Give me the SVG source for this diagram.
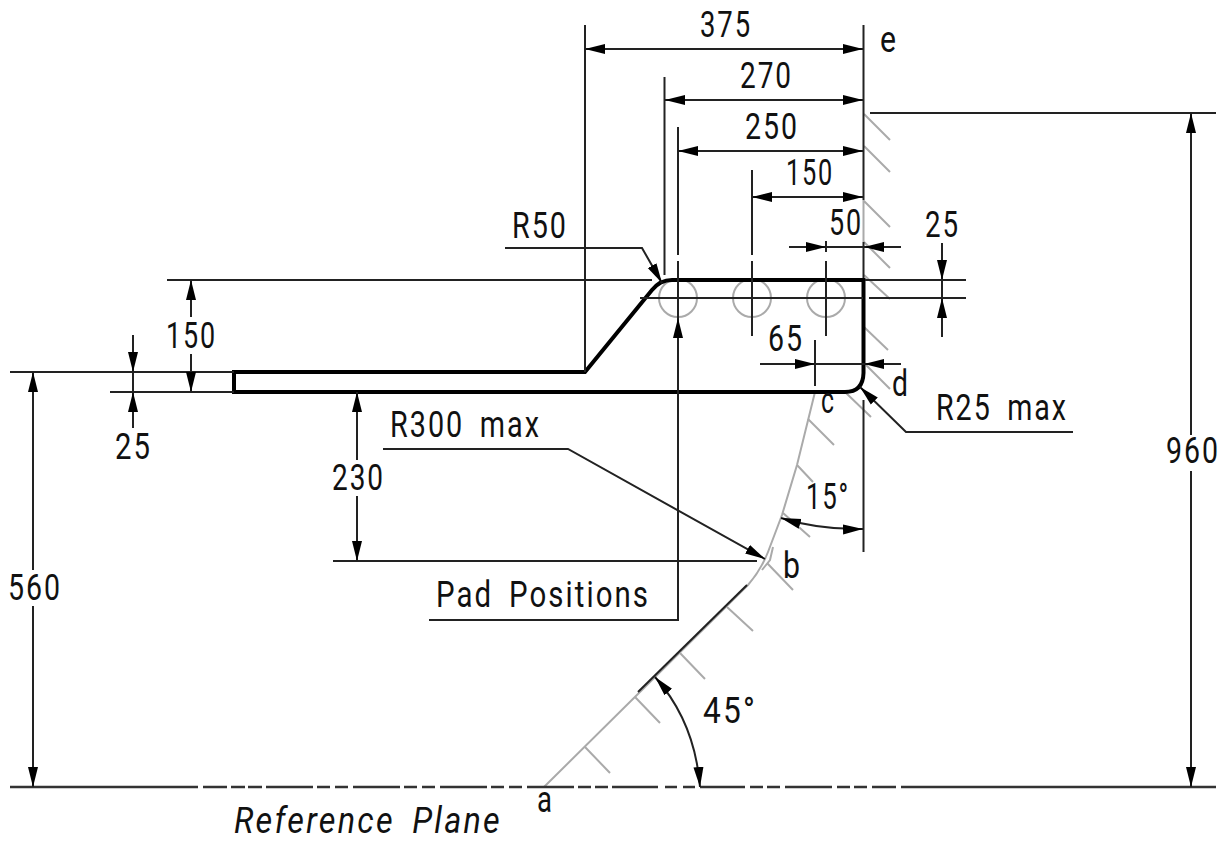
<svg xmlns="http://www.w3.org/2000/svg" width="1228" height="841" viewBox="0 0 1228 841">
<style>
.d{fill:none;stroke:#222;stroke-width:2}
.g{fill:none;stroke:#aaa;stroke-width:2}
.t{fill:none;stroke:#000;stroke-width:4}
.l{fill:none;stroke:#333;stroke-width:2.6}
text{font-family:Roboto,"Liberation Sans",sans-serif;font-weight:400;font-size:36px;fill:#111;letter-spacing:2.5px;word-spacing:8px}
.i{font-style:italic}
.n{letter-spacing:0}
</style>
<defs>
<marker id="a" markerUnits="userSpaceOnUse" markerWidth="22" markerHeight="14" refX="20" refY="7" orient="auto-start-reverse"><path d="M0,2L20,7L0,12Z" fill="#000"/></marker>
</defs>
<rect width="1228" height="841" fill="#fff"/>
<g id="surface">
<path class="g" d="M544,787L748,585Q761,570 768,552L782,515L797,465L815,392"/>
<path class="d" d="M638,692L747,585"/>
<path class="g" d="M863.500,200V242M585,747L610,773M635,697L660,723M680,653L705,679M727,607L753,631M767,563L793,590M783,513L810,537M797,465L813,482M808,419L834,445M845,392L871,417M864,114L890,140M864,146L890,172M864,201L890,227M864,242L890,268M864,275L890,299M864,327L888,350M866,365L890,389M773,547L770,560L762,570"/>
</g>
<g id="pads">
<circle class="g" cx="678" cy="298" r="19"/>
<circle class="g" cx="752" cy="298" r="19"/>
<circle class="g" cx="826" cy="298" r="19"/>
</g>
<g id="part">
<path class="t" d="M234,372H585L652,290Q660,280 672,280H863.500V373Q863,392 845,392H234Z"/>
</g>
<g id="connectors">
<path class="d" d="M585,25V372M664.500,77V275M678,127V255M678,261V318M752,170V255M752,261V336M826,241V252M826,261V336M815,340V386M863.500,25V200M863.500,242V278M863.500,400V552M167,280H652M865,280H966M640,298H863M869,298H966M870,113H1216M10,372H234M110,392H234M333,561H757M429,620H678V336"/>
<path class="l" d="M10,787H198M203,787H227M231,787H245M248,787H262M266,787H313M317,787H330M335,787H348M353,787H400M404,787H417M422,787H435M440,787H487M491,787H504M509,787H522M527,787H574M578,787H591M595,787H608M612,787H658M665,787H677M683,787H695M700,787H745M750,787H763M767,787H780M785,787H832M837,787H850M854,787H867M872,787H896M901,787H1216"/>
<path class="d" marker-start="url(#a)" marker-end="url(#a)" d="M585,49H863"/>
<path class="d" marker-start="url(#a)" marker-end="url(#a)" d="M665,100H863"/>
<path class="d" marker-start="url(#a)" marker-end="url(#a)" d="M678,151H863"/>
<path class="d" marker-start="url(#a)" marker-end="url(#a)" d="M752,197H863"/>
<path class="d" d="M789,247H901M760,364H901M942,243V337M133,335V428"/>
<path class="d" marker-end="url(#a)" d="M789,247H826"/>
<path class="d" marker-end="url(#a)" d="M901,247H864"/>
<path class="d" marker-end="url(#a)" d="M760,364H815"/>
<path class="d" marker-end="url(#a)" d="M901,364H864"/>
<path class="d" marker-end="url(#a)" d="M942,243V280"/>
<path class="d" marker-end="url(#a)" d="M942,337V298"/>
<path class="d" marker-end="url(#a)" d="M133,335V372"/>
<path class="d" marker-end="url(#a)" d="M133,428V392"/>
<path class="d" marker-end="url(#a)" d="M191,317V280"/>
<path class="d" marker-end="url(#a)" d="M191,354V392"/>
<path class="d" marker-end="url(#a)" d="M357,460V392"/>
<path class="d" marker-end="url(#a)" d="M357,496V561"/>
<path class="d" marker-end="url(#a)" d="M33,570V372"/>
<path class="d" marker-end="url(#a)" d="M33,606V787"/>
<path class="d" marker-end="url(#a)" d="M1191,435V113"/>
<path class="d" marker-end="url(#a)" d="M1191,471V787"/>
<path class="d" marker-end="url(#a)" d="M505,248H642L662,283"/>
<path class="d" marker-end="url(#a)" d="M1073,432H906L860,387"/>
<path class="d" marker-end="url(#a)" d="M383,449H568L765,559"/>
<path class="d" marker-end="url(#a)" d="M678,336V318"/>
<path class="d" marker-start="url(#a)" marker-end="url(#a)" d="M781,518Q820,530 863,529"/>
<path class="d" marker-start="url(#a)" marker-end="url(#a)" d="M655,677Q695,722 700,787"/>
</g>
<g id="labels">
<text x="700" y="37" textLength="52" lengthAdjust="spacingAndGlyphs">375</text>
<text x="740" y="88" textLength="53" lengthAdjust="spacingAndGlyphs">270</text>
<text x="745" y="139" textLength="54" lengthAdjust="spacingAndGlyphs">250</text>
<text x="786" y="185" textLength="48" lengthAdjust="spacingAndGlyphs">150</text>
<text x="829" y="235" textLength="34" lengthAdjust="spacingAndGlyphs">50</text>
<text x="925" y="237" textLength="35" lengthAdjust="spacingAndGlyphs">25</text>
<text x="768" y="351" textLength="36" lengthAdjust="spacingAndGlyphs">65</text>
<text x="512" y="238" textLength="56" lengthAdjust="spacingAndGlyphs">R50</text>
<text x="936" y="420" textLength="132" lengthAdjust="spacingAndGlyphs">R25 max</text>
<text x="390" y="437" textLength="151" lengthAdjust="spacingAndGlyphs">R300 max</text>
<text x="436" y="607" textLength="214" lengthAdjust="spacingAndGlyphs">Pad Positions</text>
<text x="332" y="490" textLength="53" lengthAdjust="spacingAndGlyphs">230</text>
<text x="1166" y="463" textLength="54" lengthAdjust="spacingAndGlyphs">960</text>
<text x="8" y="600" textLength="54" lengthAdjust="spacingAndGlyphs">560</text>
<text x="166" y="348" textLength="51" lengthAdjust="spacingAndGlyphs">150</text>
<text x="115" y="459" textLength="37" lengthAdjust="spacingAndGlyphs">25</text>
<text x="806" y="509" textLength="44" lengthAdjust="spacingAndGlyphs">15°</text>
<text x="703" y="723" textLength="54" lengthAdjust="spacingAndGlyphs">45°</text>
<text class="n" x="880" y="52" textLength="16" lengthAdjust="spacingAndGlyphs">e</text>
<text class="n" x="892" y="396" textLength="16" lengthAdjust="spacingAndGlyphs">d</text>
<text class="n" x="821" y="413" textLength="13" lengthAdjust="spacingAndGlyphs">c</text>
<text class="n" x="783" y="578" textLength="17" lengthAdjust="spacingAndGlyphs">b</text>
<text class="n" x="537" y="812" textLength="15" lengthAdjust="spacingAndGlyphs">a</text>
<text class="i" x="234" y="833" textLength="268" lengthAdjust="spacingAndGlyphs">Reference Plane</text>
</g>
</svg>
